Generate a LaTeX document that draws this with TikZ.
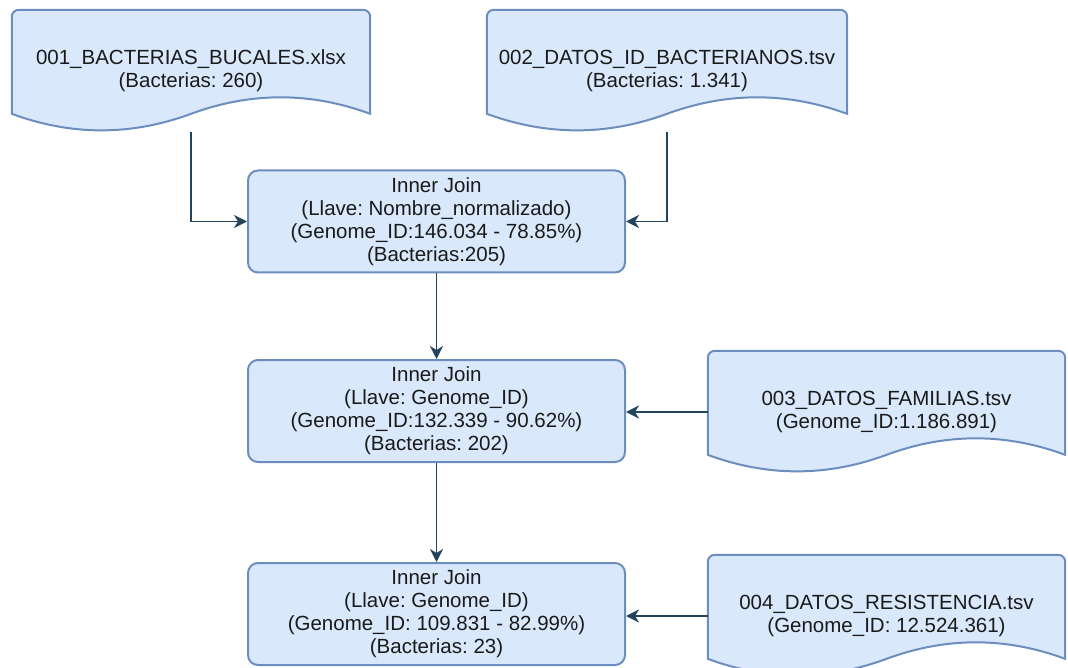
\documentclass[tikz,border=0pt]{standalone}
\usepackage{fontspec}
\setmainfont{Liberation Sans}
\usetikzlibrary{calc,arrows.meta,backgrounds}
\definecolor{fillb}{HTML}{DAE8FC}
\definecolor{strokeb}{HTML}{6C8EBF}
\definecolor{arrowc}{HTML}{23445D}
\definecolor{textc}{HTML}{1A1A1A}
\tikzset{
  txt/.style={align=center, text=textc, font=\frenchspacing\fontsize{20.5}{23}\selectfont, inner sep=0pt},
  joinbox/.style={txt, draw=strokeb, fill=fillb, line width=2pt, rounded corners=10pt,
    minimum width=377pt, minimum height=102pt},
  docbox/.style={txt, minimum width=358pt, minimum height=122pt},
  docline/.style={draw=strokeb, fill=fillb, line width=2pt},
  arr/.style={draw=arrowc, line width=1.7pt, -{Stealth[length=13pt,width=13pt,inset=4pt]}},
}
\newcommand\docshape[1]{%
  \path[docline] let \p1=(#1.north west), \p2=(#1.south east),
      \n1={\y1-\y2}, \n2={\x2-\x1} in
    (\x1,\y2+0.15*\n1) -- (\x1,\y1-7pt) arc[start angle=180,end angle=90,radius=7pt]
    -- (\x2-7pt,\y1) arc[start angle=90,end angle=0,radius=7pt]
    -- (\x2,\y2+0.15*\n1)
    .. controls (\x2-\n2/6,\y2+0.33*\n1) and (\x1+\n2/2+\n2/6,\y2+0.33*\n1) .. (\x1+\n2/2,\y2+0.15*\n1)
    .. controls (\x1+\n2/2-\n2/6,\y2-0.03*\n1) and (\x1+\n2/6,\y2-0.03*\n1) .. (\x1,\y2+0.15*\n1)
    -- cycle;}
\begin{document}
\begin{tikzpicture}[x=1pt,y=-1pt]
\useasboundingbox (0,0) rectangle (1068,668);
\clip (0,0) rectangle (1068,668);

\node[docbox] (d1) at (191,71) {001\_BACTERIAS\_BUCALES.xlsx\\(Bacterias: 260)};
\node[docbox, minimum width=360pt] (d2) at (667,71) {002\_DATOS\_ID\_BACTERIANOS.tsv\\(Bacterias: 1.341)};
\node[docbox, minimum width=357pt] (d3) at (886.5,412) {003\_DATOS\_FAMILIAS.tsv\\(Genome\_ID:1.186.891)};
\node[docbox, minimum width=357pt] (d4) at (886.5,616) {004\_DATOS\_RESISTENCIA.tsv\\(Genome\_ID: 12.524.361)};

\begin{scope}[on background layer]
  \docshape{d1}
  \docshape{d2}
  \docshape{d3}
  \docshape{d4}
\end{scope}

\node[joinbox] (j1) at (436.5,221.5) {Inner Join\\(Llave: Nombre\_normalizado)\\(Genome\_ID:146.034 - 78.85\%)\\(Bacterias:205)};
\node[joinbox] (j2) at (436.5,411) {Inner Join\\(Llave: Genome\_ID)\\(Genome\_ID:132.339 - 90.62\%)\\(Bacterias: 202)};
\node[joinbox] (j3) at (436.5,614) {Inner Join\\(Llave: Genome\_ID)\\(Genome\_ID: 109.831 - 82.99\%)\\(Bacterias: 23)};

\draw[arr] (d1.south) |- (j1.west);
\draw[arr] (d2.south) |- (j1.east);
\draw[arr] (j1.south) -- (j2.north);
\draw[arr] (j2.south) -- (j3.north);
\draw[arr] (d3.west) -- (j2.east |- d3.west);
\draw[arr] (d4.west) -- (j3.east |- d4.west);
\end{tikzpicture}
\end{document}
